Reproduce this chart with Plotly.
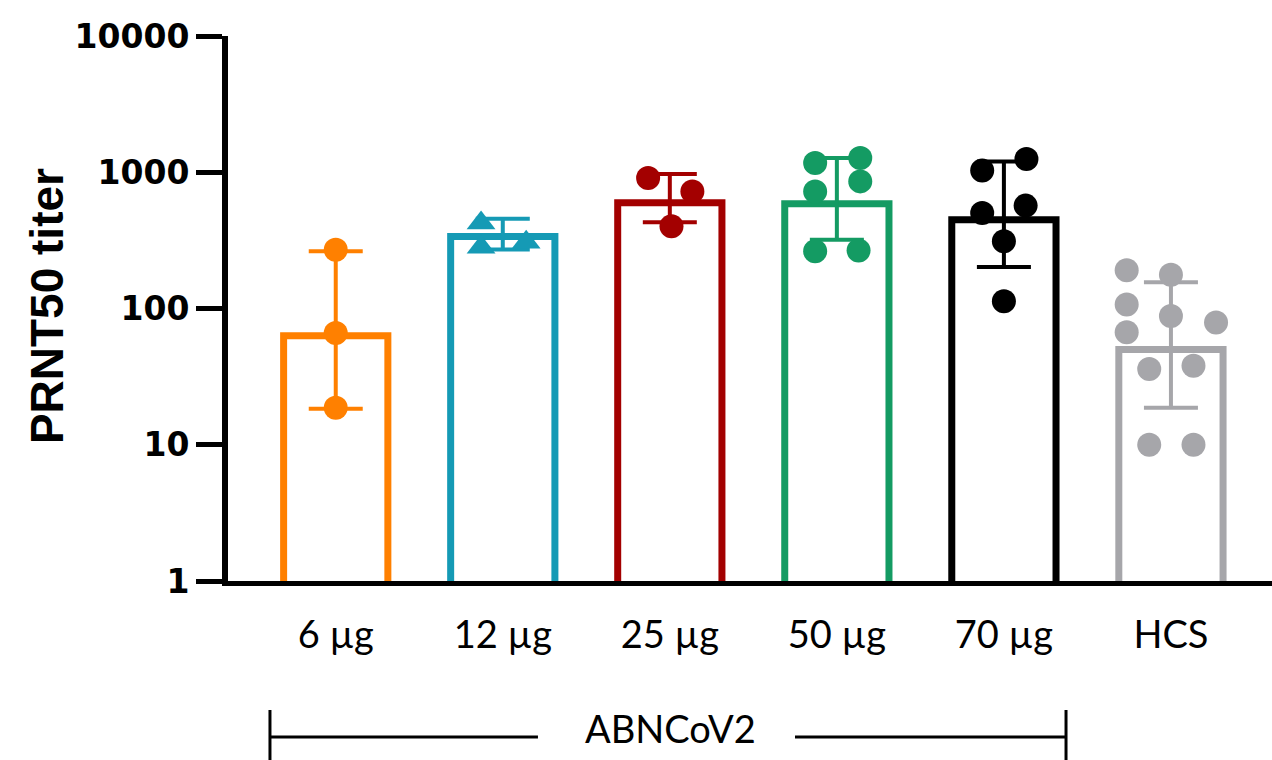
import plotly.graph_objects as go

# Dose groups and summary values (bar = geometric mean, whiskers = geometric SD range)
groups = ["6 µg", "12 µg", "25 µg", "50 µg", "70 µg", "HCS"]
bar_titer = [63, 337, 598, 588, 449, 50]
err_upper = [263, 456, 970, 1271, 1200, 156]
err_lower = [18.4, 271, 429, 320, 202, 18.7]

# Individual PRNT50 titers per group
titers_6 = [270, 66, 18.7]
titers_12 = [425, 282, 307]
titers_25 = [907, 723, 401]
titers_50 = [1168, 1271, 857, 723, 263, 267]
titers_70 = [1031, 1250, 502, 569, 311, 113]
titers_hcs = [191, 177, 107, 88, 79, 67, 36, 38, 10, 10]

y_ticks = [1, 10, 100, 1000, 10000]
y_ticktext = ["1", "10", "100", "1000", "10000"]

# horizontal spread of the dots inside each bar (category units)
spread = [
    [0, 0, 0],
    [-0.13, -0.13, 0.14],
    [-0.13, 0.135, 0.01],
    [-0.13, 0.14, 0.14, -0.13, -0.13, 0.13],
    [-0.13, 0.135, -0.13, 0.13, 0, 0],
    [-0.265, 0, -0.265, 0, 0.27, -0.265, -0.13, 0.135, -0.13, 0.135],
]
colors = ["#FF8000", "#159AB5", "#A30000", "#149B63", "#000000", "#A6A6AA"]
symbols = ["circle", "triangle-up", "circle", "circle", "circle", "circle"]
point_sets = [titers_6, titers_12, titers_25, titers_50, titers_70, titers_hcs]

fig = go.Figure()

for i, name in enumerate(groups):
    fig.add_trace(go.Bar(
        x=[i], y=[bar_titer[i]], width=0.624,
        marker=dict(color="white", line=dict(color=colors[i], width=7)),
        error_y=dict(type="data", symmetric=False,
                     array=[err_upper[i] - bar_titer[i]],
                     arrayminus=[bar_titer[i] - err_lower[i]],
                     color=colors[i], thickness=4, width=27),
        showlegend=False, hoverinfo="skip",
    ))

for i, pts in enumerate(point_sets):
    fig.add_trace(go.Scatter(
        x=[i + d for d in spread[i]], y=pts, mode="markers",
        marker=dict(color=colors[i], size=24 if symbols[i] == "circle" else 25,
                    symbol=symbols[i], line=dict(width=0)),
        showlegend=False,
    ))

fig.update_layout(
    width=1272, height=760,
    margin=dict(l=228, r=0, t=36, b=179),
    plot_bgcolor="white", paper_bgcolor="white",
    barmode="overlay",
    xaxis=dict(
        range=[-0.645, 5.605], tickvals=list(range(len(groups))), ticktext=groups,
        showline=True, linecolor="black", linewidth=5, ticks="",
        showgrid=False, zeroline=False, ticklabelstandoff=16,
        tickfont=dict(family="Lato", size=38, color="black"),
    ),
    yaxis=dict(
        type="log", range=[0, 4], tickvals=y_ticks, ticktext=y_ticktext,
        showline=True, linecolor="black", linewidth=6,
        ticks="outside", ticklen=26, tickwidth=5, tickcolor="black",
        showgrid=False, zeroline=False, ticklabelstandoff=0,
        tickfont=dict(family="DejaVu Sans", size=33, color="black", weight="bold"),
    ),
    annotations=[
        dict(text="PRNT50 titer", xref="paper", yref="paper", x=-0.174, y=0.505,
             textangle=-90, showarrow=False, xanchor="center", yanchor="middle",
             font=dict(family="Liberation Sans", size=46, color="black", weight="bold")),
        dict(text="ABNCoV2", xref="paper", yref="paper", x=0.4234, y=-0.2697,
             showarrow=False, xanchor="center", yanchor="middle",
             font=dict(family="Lato", size=38, color="black")),
    ],
    shapes=[
        dict(type="line", xref="paper", yref="paper", x0=0.0402, x1=0.2969,
             y0=-0.2862, y1=-0.2862, line=dict(color="black", width=3)),
        dict(type="line", xref="paper", yref="paper", x0=0.5431, x1=0.8027,
             y0=-0.2862, y1=-0.2862, line=dict(color="black", width=3)),
        dict(type="line", xref="paper", yref="paper", x0=0.0402, x1=0.0402,
             y0=-0.2367, y1=-0.36, line=dict(color="black", width=3)),
        dict(type="line", xref="paper", yref="paper", x0=0.8027, x1=0.8027,
             y0=-0.2367, y1=-0.36, line=dict(color="black", width=3)),
    ],
)

fig.write_html("out.html")
